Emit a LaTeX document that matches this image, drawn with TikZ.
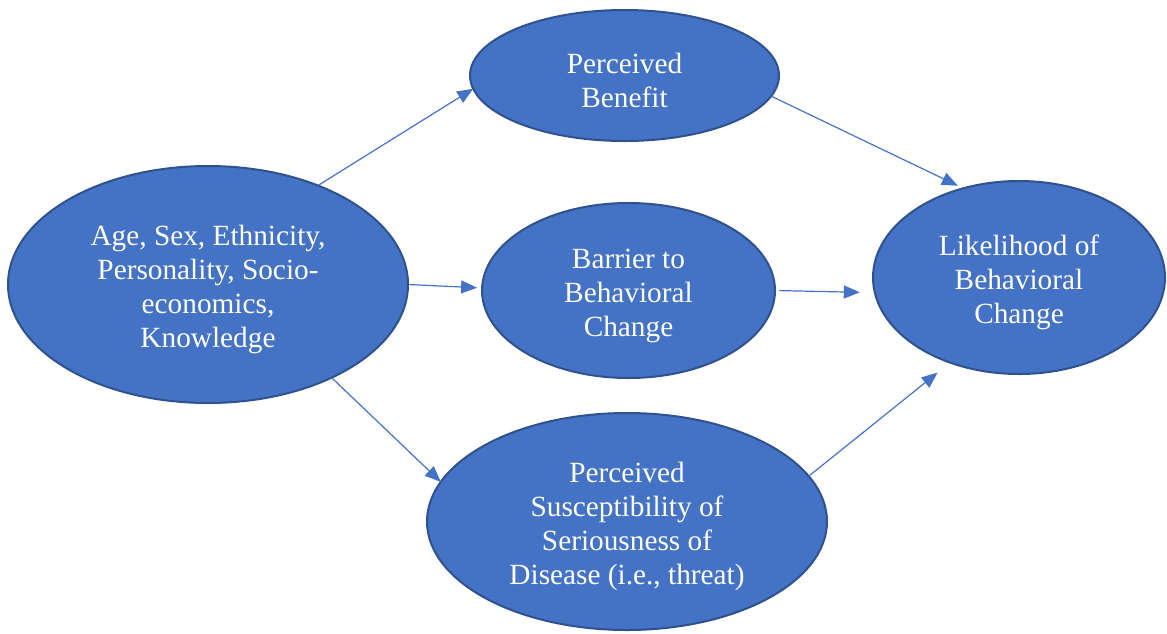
\documentclass[tikz,border=0pt]{standalone}
\usepackage{fontspec}
\setmainfont{Liberation Serif}
\usetikzlibrary{shapes.geometric,arrows.meta}
\definecolor{fillblue}{HTML}{4472C4}
\definecolor{edgeblue}{HTML}{2F528F}
\newcommand{\topstrut}{\rule{0pt}{30pt}}
\tikzset{
  oval/.style={ellipse, draw=edgeblue, line width=2pt, fill=fillblue, text=white,
    inner sep=0pt, outer sep=0pt, align=center,
    font=\fontsize{29.3}{33.8}\selectfont},
  link/.style={draw=fillblue, line width=1.2pt, -{Triangle[length=16pt,width=13pt]}}
}
\begin{document}
\begin{tikzpicture}[x=1pt,y=-1pt]
\useasboundingbox (0,0) rectangle (1167,633);
\node[oval, minimum width=400pt, minimum height=237pt] (L) at (208,284.5)
  {\topstrut Age, Sex, Ethnicity,\\Personality, Socio-\\economics,\\Knowledge};
\node[oval, minimum width=309pt, minimum height=131pt] (PB) at (624.5,75.5)
  {\topstrut Perceived\\Benefit};
\node[oval, minimum width=293pt, minimum height=175pt] (B) at (628.5,290.5)
  {\topstrut Barrier to\\Behavioral\\Change};
\node[oval, minimum width=400pt, minimum height=217pt] (S) at (627,521.5)
  {\topstrut Perceived\\Susceptibility of\\Seriousness of\\Disease (i.e., threat)};
\node[oval, minimum width=292pt, minimum height=193pt] (LK) at (1019,277.5)
  {\topstrut Likelihood of\\Behavioral\\Change};
\draw[link] (L.42) -- (PB.185);
\draw[link, shorten <=1pt, shorten >=5pt] (L.0) -- (B.179);
\draw[link] (L.323) -- (S.168);
\draw[link, shorten >=6pt] (PB.352) -- (LK.122);
\draw[link, shorten <=4pt, shorten >=15pt] (B.0) -- (LK.186);
\draw[link, shorten >=16pt] (S.14) -- (LK.231);
\end{tikzpicture}
\end{document}
